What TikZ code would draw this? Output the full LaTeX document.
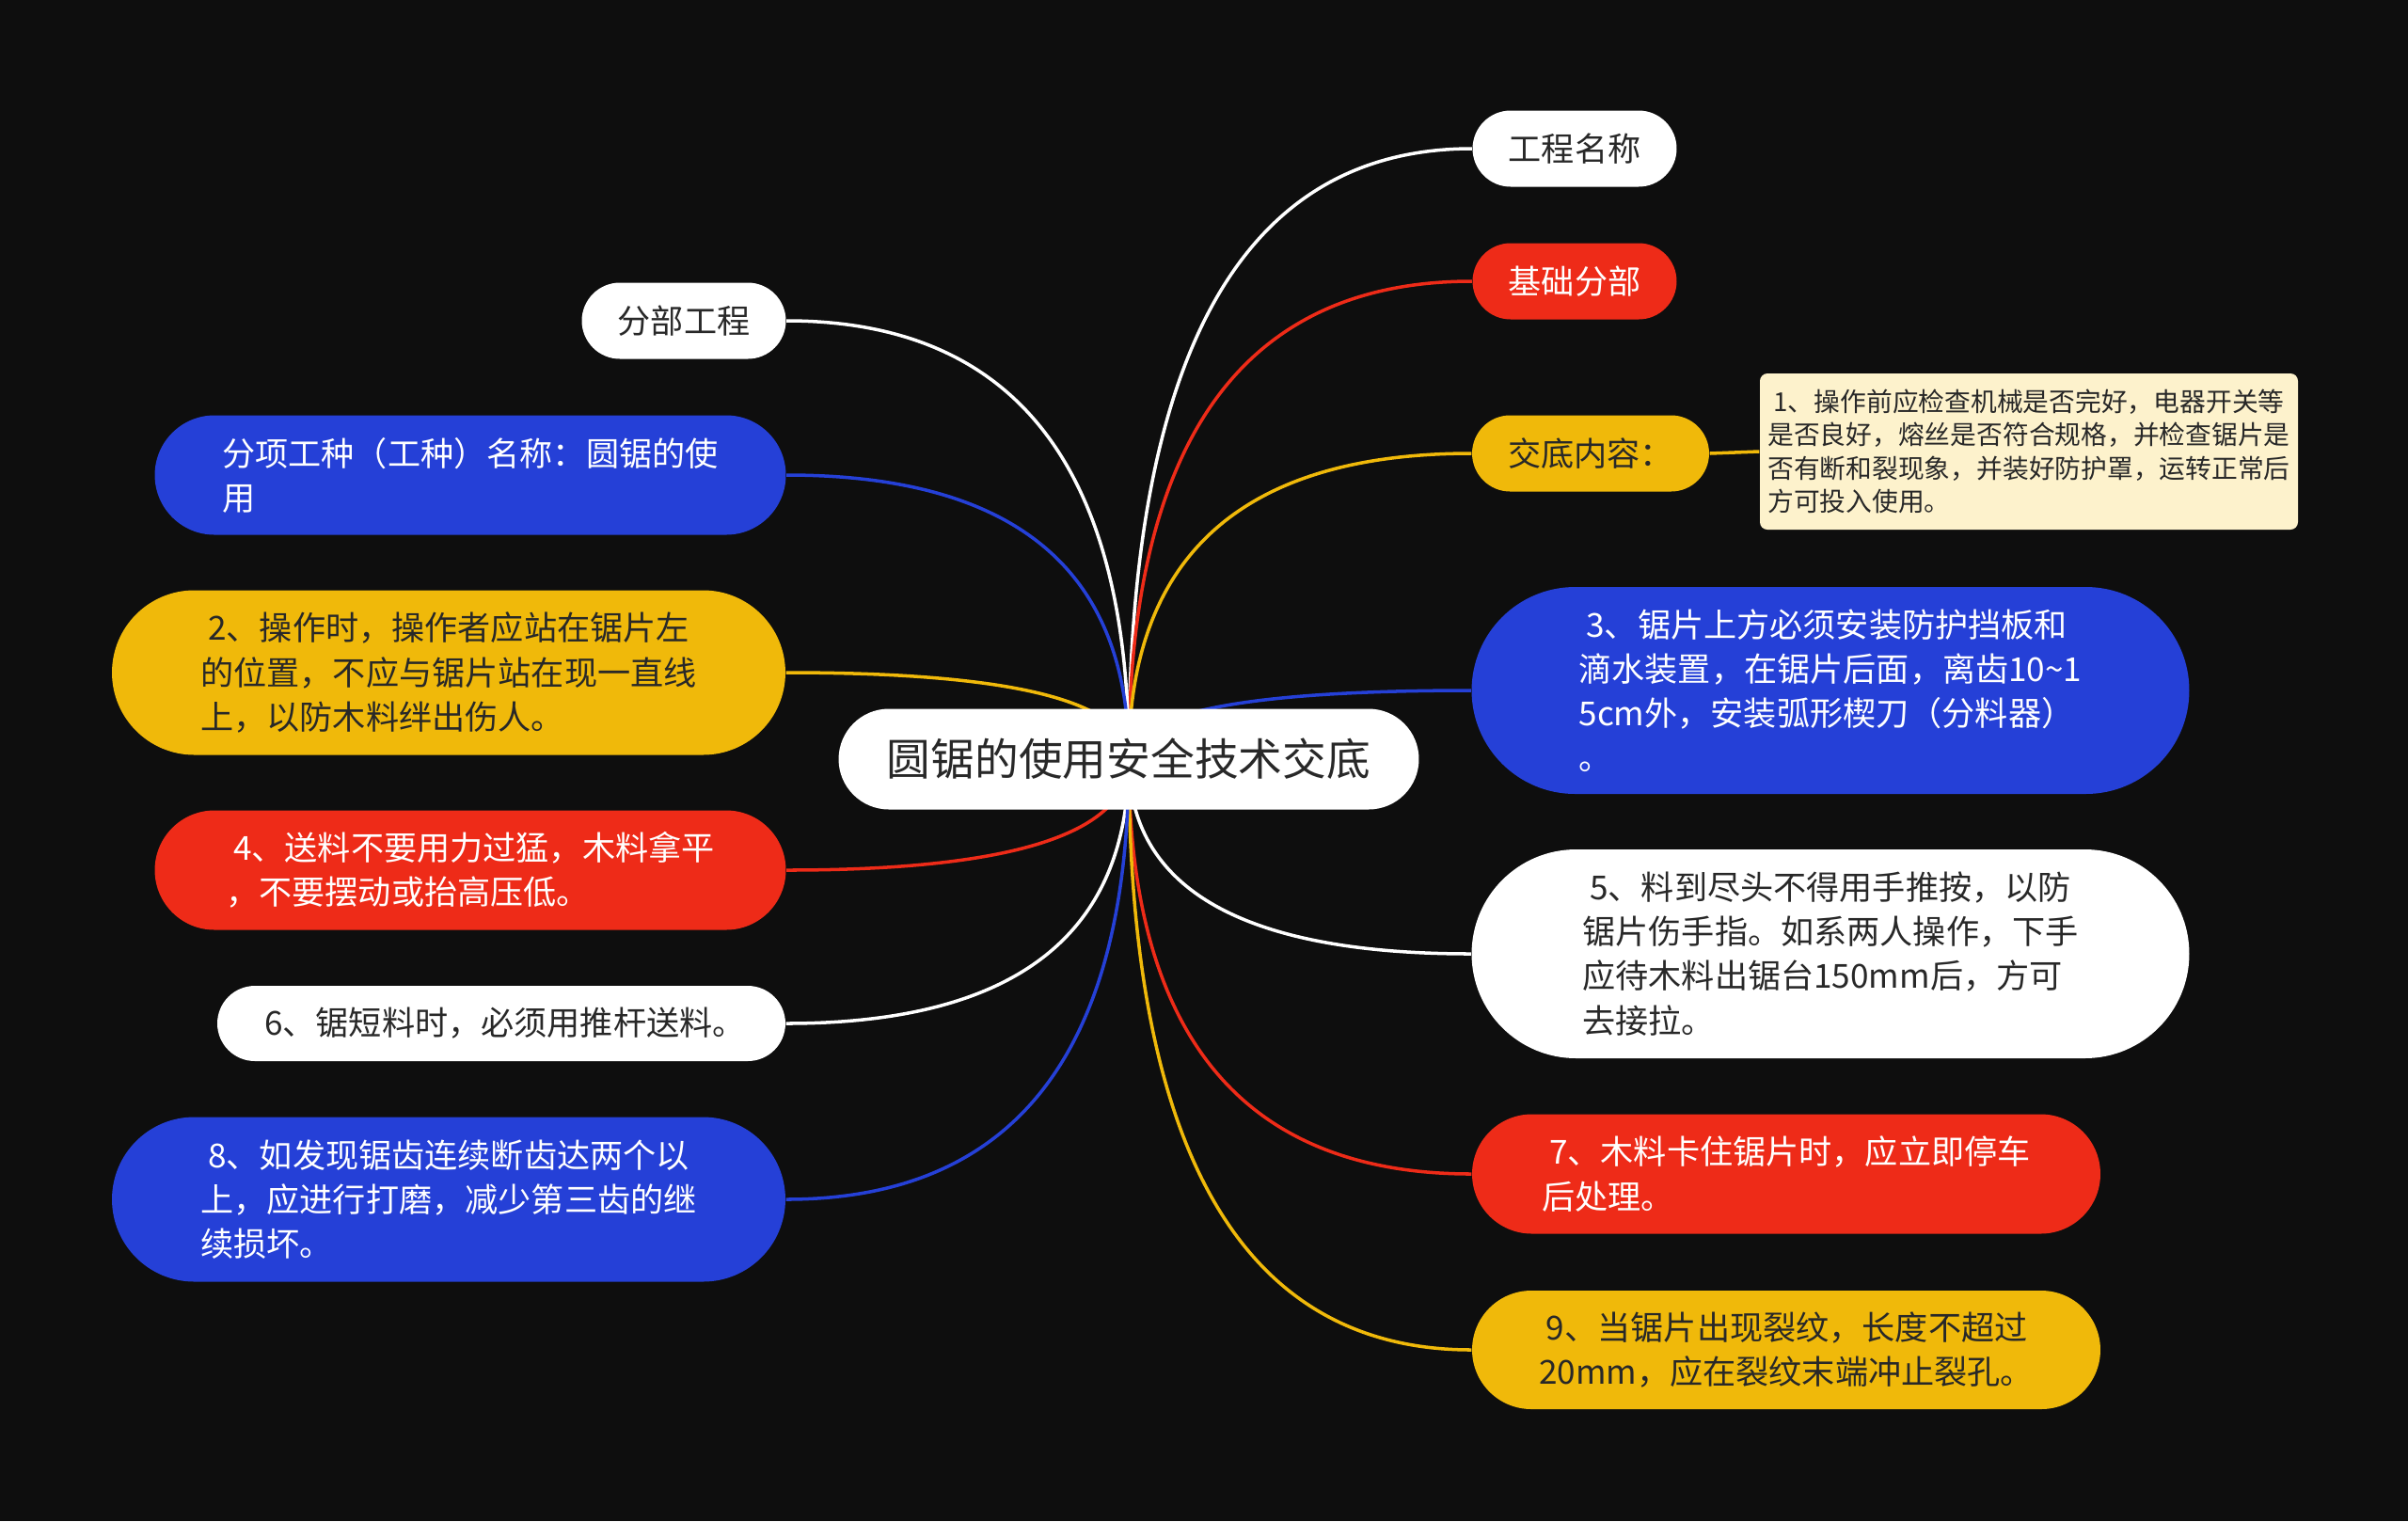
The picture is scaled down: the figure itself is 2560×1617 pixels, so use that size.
\documentclass[tikz,border=0pt]{standalone}
\usepackage{fontspec}
\setmainfont{Noto Sans CJK SC}
\usetikzlibrary{shapes.misc,calc,backgrounds}
\definecolor{cbg}{RGB}{14,14,14}
\definecolor{cblue}{RGB}{37,64,215}
\definecolor{cred}{RGB}{238,43,24}
\definecolor{cyellow}{RGB}{240,185,10}
\definecolor{ccream}{RGB}{253,242,204}
\definecolor{ctext}{RGB}{40,40,40}
\begin{document}
\begin{tikzpicture}[x=0.1mm,y=-0.1mm,line cap=round,line join=round,
		topic/.style={rounded rectangle,inner xsep=1pt,inner ysep=0pt,align=left,font=\fontsize{10}{13.4}\selectfont},
		onblue/.style={topic,fill=cblue,text=white},
		onred/.style={topic,fill=cred,text=white},
		onyellow/.style={topic,fill=cyellow,text=ctext},
		onwhite/.style={topic,fill=white,text=ctext},
		link/.style={line width=1pt}]
	\useasboundingbox (0,0) rectangle (2560,1617);
	% centre
	\node[onwhite,minimum width=62.4mm,minimum height=10.7mm,font=\fontsize{13.3}{16}\selectfont] (root) at (1200,807) {圆锯的使用安全技术交底};
	% right side
	\node[onwhite,minimum width=22.4mm,minimum height=8.1mm] (a) at (1674,158) {工程名称};
	\node[onred,minimum width=22.4mm,minimum height=8.1mm] (b) at (1674,299) {基础分部};
	\node[onyellow,minimum width=25.9mm,minimum height=8.1mm] (c) at (1691,482) {交底内容：};
	\node[rectangle,rounded corners=0.8mm,fill=ccream,text=ctext,align=left,inner sep=0pt,
		minimum width=57.2mm,minimum height=16.6mm,font=\fontsize{7.9}{10.1}\selectfont] (note) at (2157,480)
		{~1、操作前应检查机械是否完好，电器开关等\\是否良好，熔丝是否符合规格，并检查锯片是\\否有断和裂现象，并装好防护罩，运转正常后\\方可投入使用。};
	\node[onblue,minimum width=77mm,minimum height=22mm] (d) at (1946,734)
		{~3、锯片上方必须安装防护挡板和\\滴水装置，在锯片后面，离齿10\textasciitilde1\\5cm外，安装弧形楔刀（分料器）\\。};
	\node[onwhite,minimum width=77mm,minimum height=22.2mm] (e) at (1946,1014)
		{~5、料到尽头不得用手推按，以防\\锯片伤手指。如系两人操作，下手\\应待木料出锯台150mm后，方可\\去接拉。};
	\node[onred,minimum width=67.5mm,minimum height=12.7mm] (f) at (1899,1248)
		{~7、木料卡住锯片时，应立即停车\\后处理。};
	\node[onyellow,minimum width=67.5mm,minimum height=12.6mm] (g) at (1899,1435)
		{~9、当锯片出现裂纹，长度不超过\\20mm，应在裂纹末端冲止裂孔。};
	% left side
	\node[onwhite,minimum width=22.4mm,minimum height=8.1mm] (h) at (727,341) {分部工程};
	\node[onblue,minimum width=67.8mm,minimum height=12.7mm] (i) at (500,505)
		{分项工种（工种）名称：圆锯的使\\用};
	\node[onyellow,minimum width=72.3mm,minimum height=17.5mm] (j) at (477,715)
		{~2、操作时，操作者应站在锯片左\\的位置，不应与锯片站在现一直线\\上，以防木料绊出伤人。};
	\node[onred,minimum width=67.8mm,minimum height=12.7mm] (k) at (500,925)
		{~4、送料不要用力过猛，木料拿平\\，不要摆动或抬高压低。};
	\node[onwhite,minimum width=61.1mm,minimum height=8mm] (l) at (533,1088)
		{~6、锯短料时，必须用推杆送料。};
	\node[onblue,minimum width=72.3mm,minimum height=17.5mm] (m) at (477,1275)
		{~8、如发现锯齿连续断齿达两个以\\上，应进行打磨，减少第三齿的继\\续损坏。};
	\begin{pgfonlayer}{background}
		\fill[cbg] (0,0) rectangle (2560,1617);
		\foreach \n/\c in {a/white,b/cred,c/cyellow,d/cblue,e/white,f/cred,g/cyellow}
		\draw[link,\c] (root.center) .. controls ($(root.center)!2/3!(root.center|-\n.west)$) and ($(\n.west)!2/3!(root.center|-\n.west)$) .. (\n.west);
		\foreach \n/\c in {h/white,i/cblue,j/cyellow,k/cred,l/white,m/cblue}
		\draw[link,\c] (root.center) .. controls ($(root.center)!2/3!(root.center|-\n.east)$) and ($(\n.east)!2/3!(root.center|-\n.east)$) .. (\n.east);
		\draw[link,cyellow] (c.east) -- (note.west);
	\end{pgfonlayer}
\end{tikzpicture}
\end{document}
